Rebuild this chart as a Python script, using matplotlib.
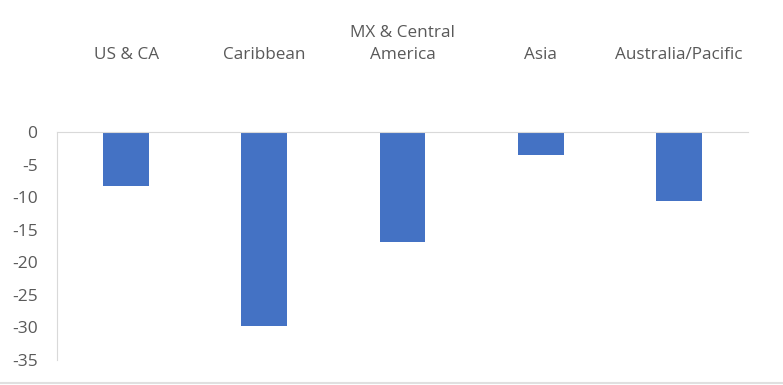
import matplotlib.pyplot as plt
from matplotlib.lines import Line2D

regions = ['US & CA', 'Caribbean', 'MX & Central\nAmerica', 'Asia', 'Australia/Pacific']
change = [-8.3, -29.8, -16.9, -3.5, -10.6]
yticks = [0, -5, -10, -15, -20, -25, -30, -35]

plt.rcParams['font.family'] = ['Open Sans', 'DejaVu Sans']

fig = plt.figure(figsize=(7.83, 3.85), dpi=100)
ax = fig.add_axes([0.0728, 0.065, 0.8825, 0.592])

ax.bar(range(len(regions)), change, width=0.33, color='#4472c4')

ax.set_xlim(-0.5, len(regions) - 0.5)
ax.set_ylim(-35, 0)
ax.set_yticks(yticks)
ax.set_yticklabels([str(t) for t in yticks])

ax.xaxis.tick_top()
ax.set_xticks(range(len(regions)))
ax.set_xticklabels(regions, linespacing=1.45)
ax.tick_params(axis='x', length=0, pad=50, labelsize=12.3, colors='#595959')
ax.tick_params(axis='y', length=0, pad=14, labelsize=12.5, colors='#595959')

for s in ['right', 'bottom']:
    ax.spines[s].set_visible(False)
ax.spines['top'].set_color('#d9d9d9')
ax.spines['left'].set_color('#d9d9d9')

# thin border line at the bottom of the picture
fig.add_artist(Line2D([0, 1], [0.004, 0.004], color='#e0e0e0', lw=1.5, transform=fig.transFigure))

plt.savefig('out.png', dpi=100)
